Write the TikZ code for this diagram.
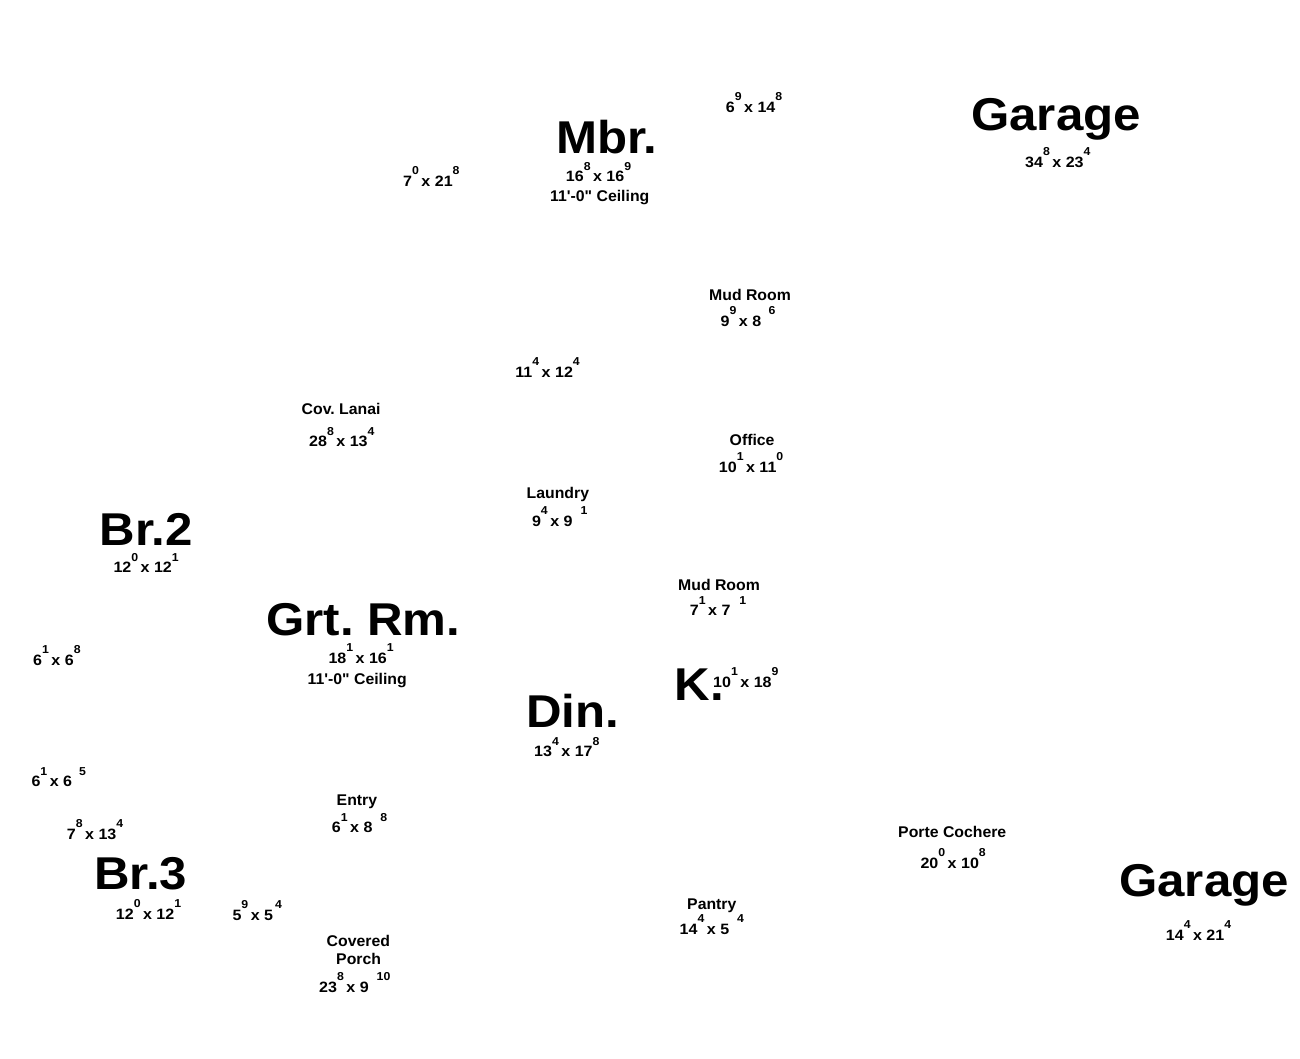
\documentclass[tikz,border=0pt]{standalone}
\usepackage{fontspec}
\newfontfamily\lsbig{Liberation Sans}[FakeStretch=1.07]
\newfontfamily\lslab{Liberation Sans}[FakeStretch=1.02]
\newfontfamily\lsdim{Liberation Sans}[FakeStretch=1.07]
\frenchspacing
\newcommand{\sups}[1]{\raisebox{11.5pt}{\fontsize{11.5}{11.5}\selectfont #1}}
\newcommand{\dm}[5][0pt]{#2\sups{#3}\,x #4\hspace{#1}\sups{#5}}
\tikzset{
  big/.style={inner sep=0pt, anchor=base west, font=\lsbig\fontsize{46}{46}\selectfont\bfseries},
  lab/.style={inner sep=0pt, anchor=base west, font=\lslab\fontsize{15.5}{15.5}\selectfont\bfseries},
  dimt/.style={inner sep=0pt, anchor=base west, font=\lsdim\fontsize{15}{15}\selectfont\bfseries}
}
\begin{document}
\begin{tikzpicture}[x=1pt,y=-1pt]
\useasboundingbox (0,0) rectangle (1300,1058);
% big room names
\node[big] (mbr) at (556,153) {Mbr.};
\node[big] (garage1) at (971,130) {Garage};
\node[big] (br2) at (99.5,545) {Br.2};
\node[big] (grt) at (266,635) {Grt. Rm.};
\node[big] (kit) at (674.5,700) {K.};
\node[big] (din) at (526,727.3) {Din.};
\node[big] (br3) at (94,889) {Br.3};
\node[big] (garage2) at (1119,896) {Garage};
% small labels
\node[lab] (mud1) at (709,300.7) {Mud Room};
\node[lab] (lanai) at (301.5,414) {Cov. Lanai};
\node[lab] (office) at (729.5,445.7) {Office};
\node[lab] (laundry) at (526.5,498.3) {Laundry};
\node[lab] (mud2) at (678,590) {Mud Room};
\node[lab] (entry) at (336.5,805) {Entry};
\node[lab] (covered) at (326.5,946) {Covered};
\node[lab] (porch) at (336,964) {Porch};
\node[lab] (porte) at (898,837.3) {Porte Cochere};
\node[lab] (pantry) at (687,909.3) {Pantry};
\node[lab] (ceil1) at (550,201) {11'-0" Ceiling};
\node[lab] (ceil2) at (307.5,684) {11'-0" Ceiling};
% dimensions
\node[dimt] (d1) at (725.7,112.3) {\dm{6}{9}{14}{8}};
\node[dimt] (d2) at (403,186) {\dm{7}{0}{21}{8}};
\node[dimt] (d3) at (565.7,181.7) {\dm{16}{8}{16}{9}};
\node[dimt] (d4) at (1025,167.3) {\dm{34}{8}{23}{4}};
\node[dimt] (d5) at (720.4,326) {\dm[7.5pt]{9}{9}{8}{6}};
\node[dimt] (d6) at (515.2,377.3) {\dm{11}{4}{12}{4}};
\node[dimt] (d7) at (309,446.7) {\dm{28}{8}{13}{4}};
\node[dimt] (d8) at (718.7,472.3) {\dm{10}{1}{11}{0}};
\node[dimt] (d9) at (531.8,526) {\dm[8pt]{9}{4}{9}{1}};
\node[dimt] (d10) at (113.3,572.7) {\dm{12}{0}{12}{1}};
\node[dimt] (d11) at (689.7,615.7) {\dm[9pt]{7}{1}{7}{1}};
\node[dimt] (d12) at (33,665) {\dm{6}{1}{6}{8}};
\node[dimt] (d13) at (328.3,663.3) {\dm{18}{1}{16}{1}};
\node[dimt] (d14) at (713,687.3) {\dm{10}{1}{18}{9}};
\node[dimt] (d15) at (534,756.7) {\dm{13}{4}{17}{8}};
\node[dimt] (d16) at (31.3,786.7) {\dm[7pt]{6}{1}{6}{5}};
\node[dimt] (d17) at (331.7,832.7) {\dm[8pt]{6}{1}{8}{8}};
\node[dimt] (d18) at (66.7,839.3) {\dm{7}{8}{13}{4}};
\node[dimt] (d19) at (115.7,919.3) {\dm{12}{0}{12}{1}};
\node[dimt] (d20) at (232.3,920) {\dm[2pt]{5}{9}{5}{4}};
\node[dimt] (d21) at (319,992.3) {\dm[8pt]{23}{8}{9}{10}};
\node[dimt] (d22) at (920.3,868.3) {\dm{20}{0}{10}{8}};
\node[dimt] (d23) at (679.5,934) {\dm[8pt]{14}{4}{5}{4}};
\node[dimt] (d24) at (1165.7,940) {\dm{14}{4}{21}{4}};
\end{tikzpicture}
\end{document}
